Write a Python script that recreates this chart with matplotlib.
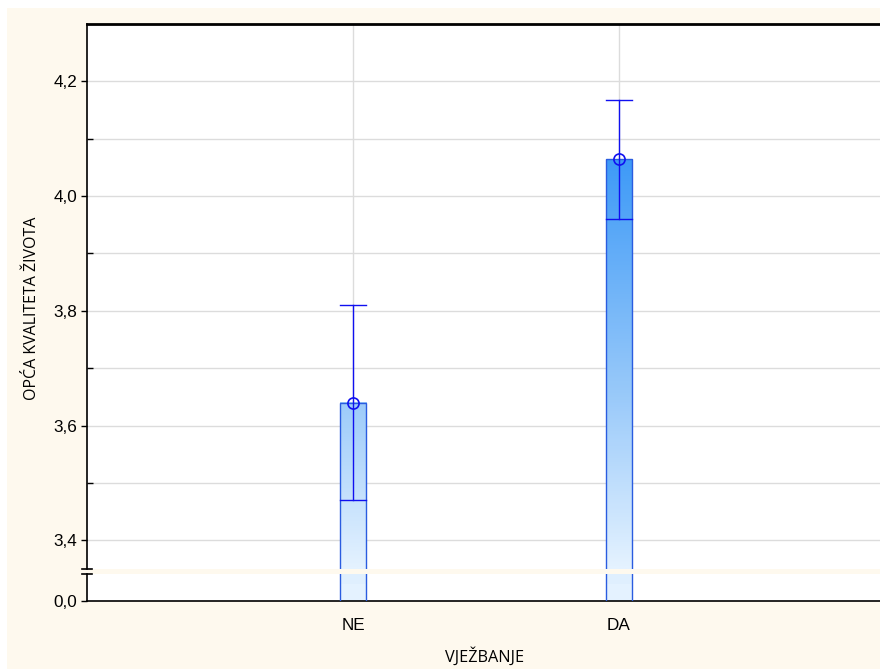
import matplotlib.pyplot as plt
import numpy as np
from matplotlib.colors import LinearSegmentedColormap
from matplotlib.patches import Rectangle
from matplotlib.lines import Line2D

# data
categories = ['NE', 'DA']
means = [3.64, 4.064]
err = [0.17, 0.104]
y_ticks = [3.4, 3.6, 3.8, 4.0, 4.2]
y_minor = [3.5, 3.7, 3.9, 4.1]

W, H = 880, 670
cream = '#FEF9EE'
grid_c = '#DCDCDC'
err_c = '#1010F0'

fig = plt.figure(figsize=(8.8, 6.7), dpi=100)
fig.patch.set_facecolor('white')
fig.patches.append(Rectangle((7 / W, 1 / H), 1 - 7 / W, 661 / H, transform=fig.transFigure,
                             facecolor=cream, edgecolor='none', zorder=-10))

def fx(px):
    return px / W

def fy(py):
    return 1 - py / H

left, right = 87, 885
ax = fig.add_axes([fx(left), fy(569), fx(right - left), fy(24) - fy(569)])
axb = fig.add_axes([fx(left), fy(601), fx(right - left), fy(573.5) - fy(601)])

ylo, yhi = 3.35, 4.3
x = np.arange(1, len(categories) + 1)
bw = 0.1

cmap = LinearSegmentedColormap.from_list('bars', [(0.0, '#E4F2FF'), (0.305, '#9CCBFA'),
                                                   (0.75, '#3E9AF7'), (1.0, '#2C88F0')])

def fmt(v):
    return ('%.1f' % v).replace('.', ',')

for a in (ax, axb):
    a.set_facecolor('white')
    for xi in x:
        a.axvline(xi, color=grid_c, lw=1, zorder=1)
    a.spines['right'].set_visible(False)
    a.spines['left'].set_linewidth(1.2)
    a.tick_params(axis='y', which='major', direction='out', length=4, width=1, pad=3)
    a.tick_params(axis='x', direction='in', length=3, width=1.2, pad=12)

# top axes
ax.set_yticks(y_ticks)
ax.set_yticklabels([fmt(v) for v in y_ticks], fontfamily='Liberation Sans', fontsize=12.3)
ax.set_yticks(y_minor, minor=True)
ax.tick_params(axis='y', which='minor', direction='in', length=4, width=1)
for v in y_ticks + y_minor:
    ax.axhline(v, color=grid_c, lw=1, zorder=1)
ax.set_xticks([])
ax.spines['bottom'].set_visible(False)
ax.spines['top'].set_linewidth(2)

for xi, m, e in zip(x, means, err):
    grad = np.linspace(ylo, m, 200).reshape(-1, 1)
    ax.imshow(grad, cmap=cmap, vmin=ylo, vmax=yhi, origin='lower', aspect='auto',
              extent=[xi - bw / 2, xi + bw / 2, ylo, m], zorder=2)
    ax.add_patch(Rectangle((xi - bw / 2, ylo - 0.1), bw, m - ylo + 0.1, facecolor='none',
                           edgecolor='#2A5CE0', lw=1, zorder=3))
    ax.plot([xi, xi], [m - e, m + e], color=err_c, lw=1, zorder=4)
    ax.plot([xi - bw / 2, xi + bw / 2], [m - e, m - e], color=err_c, lw=1, zorder=4)
    ax.plot([xi - bw / 2, xi + bw / 2], [m + e, m + e], color=err_c, lw=1, zorder=4)
    ax.plot([xi], [m], 'o', mfc='none', mec=err_c, mew=1.2, ms=8, zorder=5)
ax.set_xlim(0, 3)
ax.set_ylim(ylo, yhi)

# bottom axes (below the break)
axb.set_yticks([0.0])
axb.set_yticklabels([fmt(0.0)], fontfamily='Liberation Sans', fontsize=12.3)
axb.set_xticks(x)
axb.set_xticklabels(categories, fontfamily='Liberation Sans', fontsize=12.3)
axb.spines['top'].set_visible(False)
axb.spines['bottom'].set_linewidth(1.2)
for xi in x:
    axb.imshow(np.array([[0.0], [0.02]]), cmap=cmap, vmin=0, vmax=1, origin='lower',
               aspect='auto', extent=[xi - bw / 2, xi + bw / 2, 0, 0.06], zorder=2)
    axb.add_patch(Rectangle((xi - bw / 2, -0.01), bw, 0.1, facecolor='none',
                            edgecolor='#2A5CE0', lw=1, zorder=3))
axb.set_xlim(0, 3)
axb.set_ylim(0, 0.048)

# break marks on the left spine
for py in (569, 574):
    fig.add_artist(Line2D([fx(82), fx(92)], [fy(py), fy(py)], color='black', lw=1.2,
                          transform=fig.transFigure, zorder=10))

fig.text(fx(32), fy(308), 'OPĆA KVALITETA ŽIVOTA', rotation=90, ha='center', va='center',
         fontsize=11.5, fontfamily='Open Sans')
fig.text(fx(485), fy(657), 'VJEŽBANJE', ha='center', va='center', fontsize=11.7,
         fontfamily='Open Sans')

fig.savefig('out.png', dpi=100, facecolor=fig.get_facecolor())
